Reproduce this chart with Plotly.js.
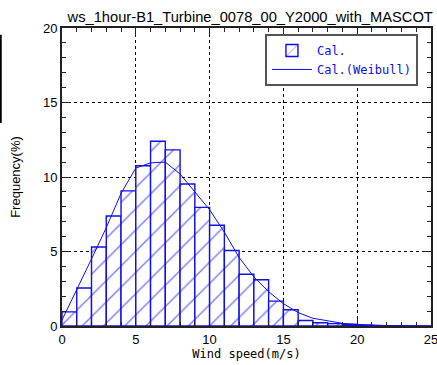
<!DOCTYPE html>
<html>
<head>
<meta charset="utf-8">
<script src="https://cdn.plot.ly/plotly-3.0.1.min.js"></script>
<style>html,body{margin:0;padding:0;background:#fff;}#chart{width:437px;height:365px;}</style>
</head>
<body>
<div id="chart"></div>
<script>
// Histogram bins (left edges, m/s) and frequencies (%)
const binStart = [0,1,2,3,4,5,6,7,8,9,10,11,12,13,14,15,16,17,18,19,20,21,22,23,24];
const binFreq  = [0.95,2.55,5.3,7.38,9.07,10.76,12.4,11.82,9.53,7.96,6.76,5.07,3.47,3.1,1.67,1.09,0.37,0.22,0.16,0.1,0.04,0.02,0.01,0.01,0.0];
// Weibull fit curve
const weibX = [0,1,2,3,4,5,6,7,8,9,10,11,12,13,14,15,16,17,18,19,20,21,22,23,24,25];
const weibY = [0.4,2.4,4.5,6.6,8.9,10.6,10.95,11.0,10.2,9.0,7.8,6.3,4.6,3.3,2.3,1.5,0.9,0.52,0.33,0.18,0.11,0.06,0.03,0.02,0.01,0.0];
const xTicks = [0,5,10,15,20,25];
const yTicks = [0,5,10,15,20];

const blue = '#0f0fe8';
const monoFont = 'DejaVu Sans Mono, monospace';

const traces = [
  {
    type: 'bar',
    x: binStart.map(v => v + 0.5),
    y: binFreq,
    width: 1,
    name: 'Cal.',
    marker: {
      color: '#ffffff',
      line: {color: blue, width: 1.4},
      pattern: {shape: '/', fgcolor: '#0000ff', bgcolor: '#ffffff', size: 15, solidity: 0.1, fillmode: 'overlay'}
    }
  },
  {
    type: 'scatter',
    mode: 'lines',
    x: weibX,
    y: weibY,
    name: 'Cal.(Weibull)',
    line: {color: blue, width: 1}
  }
];

const axisCommon = {
  showline: true, linecolor: '#222', linewidth: 2, mirror: 'allticks',
  ticks: 'inside', ticklen: 7, tickcolor: '#222', tickwidth: 1,
  showgrid: true, gridcolor: '#000', gridwidth: 1,
  zeroline: false,
  ticklabeloverflow: 'allow',
  tickfont: {family: 'Liberation Sans, Arial, sans-serif', size: 13, color: '#000'},
  minor: {ticks: 'inside', ticklen: 4, tickcolor: '#222', dtick: 1, showgrid: false}
};

const layout = {
  width: 437, height: 365,
  margin: {l: 62, r: 6, t: 28, b: 39},
  paper_bgcolor: '#fff', plot_bgcolor: '#fff',
  bargap: 0,
  showlegend: true,
  title: {
    text: 'ws_1hour-B1_Turbine_0078_00_Y2000_with_MASCOT',
    font: {family: 'Liberation Sans, Arial, sans-serif', size: 14.7, color: '#000'},
    xref: 'paper', x: 0.51, xanchor: 'center',
    yref: 'container', y: 0.955, yanchor: 'middle'
  },
  xaxis: Object.assign({}, axisCommon, {
    range: [0, 25], tickvals: xTicks, griddash: 'dot',
    title: {text: 'Wind speed(m/s)', font: {family: monoFont, size: 12, color: '#000'}, standoff: 2}
  }),
  yaxis: Object.assign({}, axisCommon, {
    range: [0, 20], tickvals: yTicks, griddash: '3px,3px',
    title: {text: 'Frequency(%)', font: {family: 'Liberation Sans, Arial, sans-serif', size: 13, color: '#000'}, standoff: 19}
  }),
  legend: {
    x: 0.55, y: 0.98, xanchor: 'left', yanchor: 'top',
    bgcolor: '#fff', bordercolor: '#555', borderwidth: 2,
    font: {family: monoFont, size: 12, color: blue},
    itemwidth: 40, tracegroupgap: 0
  },
  shapes: [
    {type: 'line', xref: 'paper', yref: 'paper', x0: -0.166, x1: -0.166, y0: 0.977, y1: 0.681, line: {color: '#000', width: 2}}
  ]
};

Plotly.newPlot('chart', traces, layout, {displayModeBar: false, staticPlot: true});
</script>
</body>
</html>
